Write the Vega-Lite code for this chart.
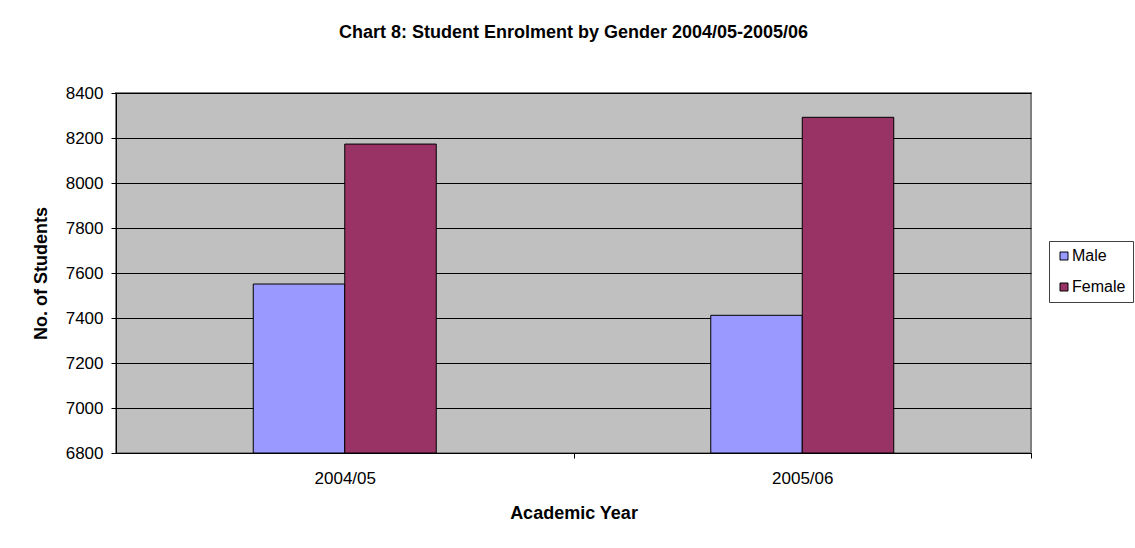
{
  "$schema": "https://vega.github.io/schema/vega-lite/v6.json",
  "width": 915,
  "height": 360,
  "autosize": "none",
  "padding": {"left": 116, "top": 93, "right": 104, "bottom": 95},
  "background": "white",
  "title": {
    "text": "Chart 8: Student Enrolment by Gender 2004/05-2005/06",
    "font": "Liberation Sans",
    "fontSize": 18,
    "fontWeight": "bold",
    "color": "black",
    "anchor": "middle",
    "offset": 42
  },
  "data": {
    "values": [
      {"year": "2004/05", "gender": "Male", "students": 7551},
      {"year": "2004/05", "gender": "Female", "students": 8173},
      {"year": "2005/06", "gender": "Male", "students": 7412},
      {"year": "2005/06", "gender": "Female", "students": 8292}
    ]
  },
  "mark": {"type": "bar", "stroke": "black", "strokeWidth": 1},
  "encoding": {
    "x": {
      "field": "year",
      "type": "nominal",
      "scale": {"paddingInner": 0.6, "paddingOuter": 0.3},
      "axis": {
        "title": "Academic Year",
        "labelAngle": 0,
        "tickOffset": 228.75,
        "labelOffset": -228.75,
        "tickSize": 5,
        "labelPadding": 12,
        "titlePadding": 18
      }
    },
    "xOffset": {
      "field": "gender",
      "type": "nominal",
      "sort": ["Male", "Female"],
      "scale": {"paddingInner": 0, "paddingOuter": 0}
    },
    "y": {
      "field": "students",
      "type": "quantitative",
      "scale": {"domain": [6800, 8400], "zero": false, "nice": false},
      "axis": {
        "title": "No. of Students",
        "values": [6800, 7000, 7200, 7400, 7600, 7800, 8000, 8200, 8400],
        "format": "d",
        "tickSize": 5,
        "labelPadding": 8,
        "titlePadding": 15,
        "grid": true
      }
    },
    "y2": {"datum": 6800},
    "color": {
      "field": "gender",
      "type": "nominal",
      "sort": ["Male", "Female"],
      "scale": {"domain": ["Male", "Female"], "range": ["#9999FF", "#993366"]},
      "legend": {
        "title": null,
        "orient": "none",
        "legendX": 933,
        "legendY": 148,
        "symbolType": "square",
        "symbolSize": 64,
        "symbolStrokeColor": "black",
        "symbolStrokeWidth": 1,
        "rowPadding": 15,
        "padding": 7,
        "strokeColor": "#404040",
        "fillColor": "white",
        "labelFont": "Liberation Sans",
        "labelFontSize": 16,
        "labelColor": "black",
        "labelOffset": 0
      }
    }
  },
  "config": {
    "view": {"fill": "#C0C0C0", "stroke": "#808080", "strokeWidth": 2},
    "axis": {
      "labelFont": "Liberation Sans",
      "labelFontSize": 17,
      "labelColor": "black",
      "titleFont": "Liberation Sans",
      "titleFontSize": 18,
      "titleFontWeight": "bold",
      "titleColor": "black",
      "domainColor": "black",
      "tickColor": "black",
      "gridColor": "black",
      "gridOpacity": 1,
      "grid": false
    }
  }
}
